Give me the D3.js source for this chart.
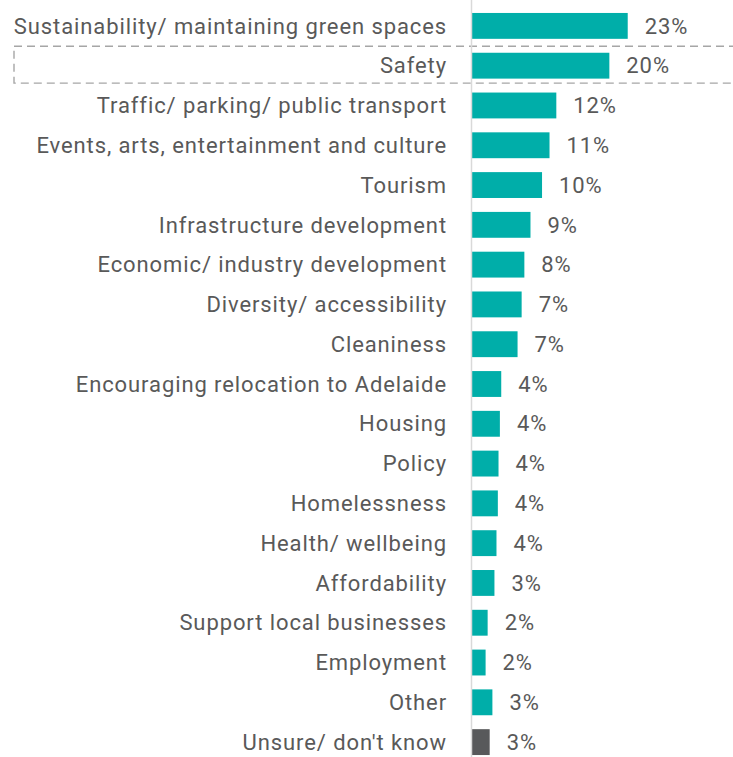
<!DOCTYPE html>
<html>
<head>
<meta charset="utf-8">
<script src="https://cdn.jsdelivr.net/npm/d3@7"></script>
<style>
  html, body { margin: 0; padding: 0; background: #ffffff; }
  svg { display: block; }
  text { font-family: Roboto, "Noto Sans", sans-serif; font-weight: 400; letter-spacing: 0.9px; }
</style>
</head>
<body>
<svg id="chart" width="733" height="757"></svg>
<script>
// Share of responses (%) by priority area
const categories = [
  "Sustainability/ maintaining green spaces",
  "Safety",
  "Traffic/ parking/ public transport",
  "Events, arts, entertainment and culture",
  "Tourism",
  "Infrastructure development",
  "Economic/ industry development",
  "Diversity/ accessibility",
  "Cleaniness",
  "Encouraging relocation to Adelaide",
  "Housing",
  "Policy",
  "Homelessness",
  "Health/ wellbeing",
  "Affordability",
  "Support local businesses",
  "Employment",
  "Other",
  "Unsure/ don't know"
];
const values = [22.9, 20.2, 12.4, 11.4, 10.3, 8.6, 7.7, 7.3, 6.7, 4.3, 4.1, 3.9, 3.8, 3.6, 3.3, 2.3, 2.0, 3.0, 2.6];
const highlighted = ["Safety"];
const neutral = ["Unsure/ don't know"];

const W = 733, H = 757;
const x0 = 472;
const svg = d3.select("#chart");

const data = categories.map((c, i) => ({ cat: c, value: values[i] }));

const x = d3.scaleLinear().domain([0, 23]).range([x0, x0 + 156.4]);
const y = d3.scaleBand()
  .domain(categories)
  .range([6, 762])
  .paddingInner(0.35)
  .paddingOuter(0.175);

// dashed frame around highlighted rows
highlighted.forEach(h => {
  const top = y(h) - (y.step() - y.bandwidth()) / 2;
  svg.append("rect")
    .attr("x", 14)
    .attr("y", top + 0.5)
    .attr("width", W + 10)
    .attr("height", y.step() - 3)
    .attr("fill", "none")
    .attr("stroke", "#a6a6a6")
    .attr("stroke-width", 1.4)
    .attr("stroke-dasharray", "8,5");
});

// bars
svg.append("g").selectAll("rect")
  .data(data)
  .join("rect")
  .attr("x", x(0))
  .attr("y", d => y(d.cat))
  .attr("width", d => x(d.value) - x(0))
  .attr("height", y.bandwidth())
  .attr("fill", d => neutral.includes(d.cat) ? "#58595b" : "#00aea9");

// baseline
svg.append("line")
  .attr("x1", x(0) - 0.5).attr("x2", x(0) - 0.5)
  .attr("y1", 0).attr("y2", H)
  .attr("stroke", "#d9d9d9")
  .attr("stroke-width", 1.5);

// category labels
svg.append("g").selectAll("text")
  .data(data)
  .join("text")
  .attr("x", x(0) - 25)
  .attr("y", d => y(d.cat) + y.bandwidth() / 2)
  .attr("dy", "0.35em")
  .attr("text-anchor", "end")
  .attr("font-size", 22)
  .attr("fill", "#595959")
  .text(d => d.cat);

// value labels
svg.append("g").selectAll("text")
  .data(data)
  .join("text")
  .attr("x", d => x(d.value) + 17)
  .attr("y", d => y(d.cat) + y.bandwidth() / 2)
  .attr("dy", "0.35em")
  .attr("font-size", 22)
  .attr("fill", "#595959")
  .text(d => Math.round(d.value) + "%");
</script>
</body>
</html>
